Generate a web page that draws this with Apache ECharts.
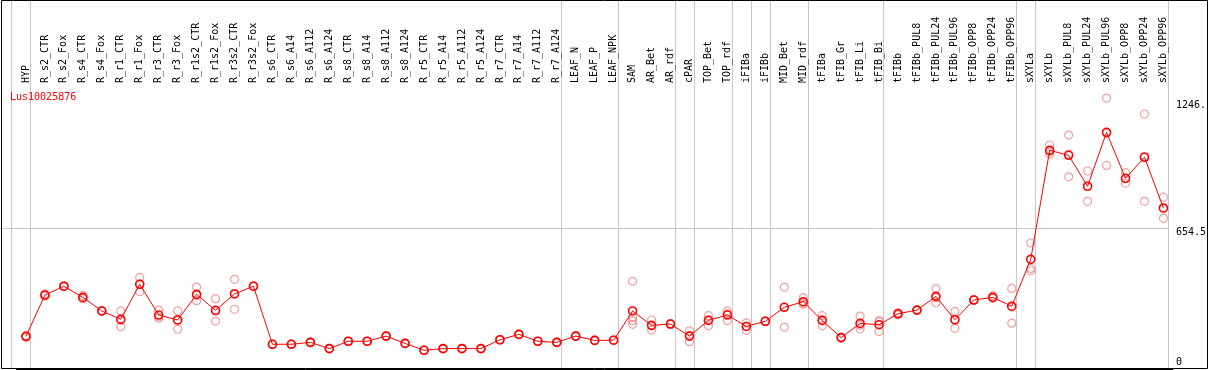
<!DOCTYPE html>
<html><head><meta charset="utf-8">
<script src="https://cdn.jsdelivr.net/npm/echarts@6/dist/echarts.min.js"></script>
<style>html,body{margin:0;padding:0;background:#fff}#c{width:1209px;height:370px}</style>
</head><body><div id="c"></div>
<script>
const geneId = 'Lus10025876';
const categories = ['HYP',
  'R_s2_CTR','R_s2_Fox','R_s4_CTR','R_s4_Fox','R_r1_CTR','R_r1_Fox','R_r3_CTR','R_r3_Fox',
  'R_r1s2_CTR','R_r1s2_Fox','R_r3s2_CTR','R_r3s2_Fox','R_s6_CTR','R_s6_A14','R_s6_A112','R_s6_A124',
  'R_s8_CTR','R_s8_A14','R_s8_A112','R_s8_A124','R_r5_CTR','R_r5_A14','R_r5_A112','R_r5_A124',
  'R_r7_CTR','R_r7_A14','R_r7_A112','R_r7_A124',
  'LEAF_N','LEAF_P','LEAF_NPK','SAM','AR_Bet','AR_rdf','cPAR','TOP_Bet','TOP_rdf','iFIBa','iFIBb',
  'MID_Bet','MID_rdf','tFIBa','tFIB_Gr','tFIB_Li','tFIB_Bi','tFIBb',
  'tFIBb_PUL8','tFIBb_PUL24','tFIBb_PUL96','tFIBb_OPP8','tFIBb_OPP24','tFIBb_OPP96',
  'sXYLa','sXYLb','sXYLb_PUL8','sXYLb_PUL24','sXYLb_PUL96','sXYLb_OPP8','sXYLb_OPP24','sXYLb_OPP96'];
const means = [152,
  344,385,333,270,231,394,251,228,
  347,273,349,385,115,115,124,95,
  129,129,153,119,87,95,95,95,
  136,161,129,124,
  153,133,134,270,203,209,153,226,251,198,222,
  287,313,226,146,212,206,257,
  274,338,229,321,333,292,
  510,1017,994,850,1101,887,985,749];
const replicates = [[155,150,146],
  [350,340,342],[387,384,383],[342,330,327],[272,268,270],[270,197,226],[426,360,396],[274,236,243],[270,185,229],
  [381,318,342],[327,223,269],[417,278,352],[386,384,385],[116,114,115],[116,114,115],[125,123,124],[96,94,95],
  [130,128,129],[130,128,129],[154,152,153],[120,118,119],[88,86,87],[96,94,95],[96,94,95],[96,94,95],
  [137,135,136],[162,160,161],[130,128,129],[125,123,124],
  [154,152,153],[134,132,133],[135,133,134],[408,240,225,208],[228,181,200],[212,206,209],[177,127,155],[248,201,229],[270,225,258],[215,180,199],[224,220,222],
  [380,194,287],[332,301,306],[248,201,229],[148,144,146],[246,186,204],[225,174,219],[262,252,257],
  [276,272,274],[374,308,332],[268,189,230],[323,319,321],[340,330,329],[375,213,288],
  [586,468,457],[1042,1000,1010],[1088,894,1000],[921,780,850],[1260,947,1096],[913,864,885],[1186,780,989],[799,701,747]];
const groupEnds = [-1, 0, 28, 31, 34, 35, 37, 38, 39, 41, 45, 52, 53, 60];
const yTickValues = [0, 654.5, 1246.3];
const yTickLabels = ['0', '654.5', '1246.'];
const yMax = 1321;

const repPoints = [];
replicates.forEach((reps, i) => reps.forEach(v => repPoints.push([i, v])));

const mono = 'DejaVu Sans Mono';
const chart = echarts.init(document.getElementById('c'), null, {renderer: 'canvas'});
chart.setOption({
  animation: false,
  backgroundColor: '#fff',
  title: {text: geneId, left: 10, top: 92, padding: 0,
    textStyle: {color: '#ff0000', fontSize: 10, fontWeight: 'normal', fontFamily: mono}},
  grid: {left: 16.5, right: 33.5, top: 85, bottom: 1, containLabel: false},
  xAxis: {type: 'category', position: 'top', data: categories, boundaryGap: true,
    axisLine: {show: true, lineStyle: {color: '#000', width: 1}},
    axisTick: {show: false}, splitLine: {show: false},
    axisLabel: {rotate: 90, margin: 2, interval: 0, color: '#000', fontSize: 10, fontFamily: mono}},
  yAxis: {type: 'value', position: 'right', min: 0, max: yMax,
    axisLine: {show: false}, axisTick: {show: false}, splitLine: {show: false},
    axisLabel: {customValues: yTickValues, margin: 3, color: '#000', fontSize: 10, fontFamily: mono,
      formatter: function (v) {
        const k = yTickValues.indexOf(v);
        const t = k >= 0 ? yTickLabels[k] : '';
        return k === 0 ? '{lo|' + t + '}' : '{hi|' + t + '}';
      },
      rich: {
        lo: {fontSize: 10, fontFamily: mono, color: '#000', padding: [0, 0, 14, 0]},
        hi: {fontSize: 10, fontFamily: mono, color: '#000', padding: [9, 0, 0, 0]}
      }}},
  graphic: [{type: 'rect', silent: true, z: 100,
    shape: {x: 1.5, y: 0.5, width: 1206, height: 368},
    style: {fill: 'none', stroke: '#000', lineWidth: 1}}],
  series: [
    {type: 'custom', z: 0, silent: true, data: groupEnds.map(i => [i, 0]),
      renderItem: function (params, api) {
        const x0 = api.coord([0, 0])[0];
        const band = api.size([1, 0])[0];
        const x = Math.round(x0 + (api.value(0) + 0.23) * band) + 0.5;
        const yb = api.coord([0, 0])[1];
        return {type: 'line', shape: {x1: x, y1: 0, x2: x, y2: yb},
          style: {stroke: '#c8c8c8', lineWidth: 1}};
      }},
    {type: 'custom', z: 0, silent: true, data: [[0, yTickValues[1]]],
      renderItem: function (params, api) {
        const x0 = api.coord([0, 0])[0];
        const band = api.size([1, 0])[0];
        const xe = Math.round(x0 + (groupEnds[groupEnds.length - 1] + 0.23) * band) + 0.5;
        const y = Math.round(api.coord([0, api.value(1)])[1]) + 0.5;
        return {type: 'line', shape: {x1: 0, y1: y, x2: xe, y2: y},
          style: {stroke: '#c8c8c8', lineWidth: 1}};
      }},
    {type: 'scatter', data: repPoints, symbol: 'circle', symbolSize: 8, z: 2,
      itemStyle: {color: 'rgba(0,0,0,0)', borderColor: '#ec8a8a', borderWidth: 1.2}},
    {type: 'line', data: means, symbol: 'circle', symbolSize: 8, z: 3,
      lineStyle: {color: '#ff0000', width: 1},
      itemStyle: {color: 'rgba(255,255,255,0)', borderColor: '#ff0000', borderWidth: 1.6}}
  ]
});
</script></body></html>
